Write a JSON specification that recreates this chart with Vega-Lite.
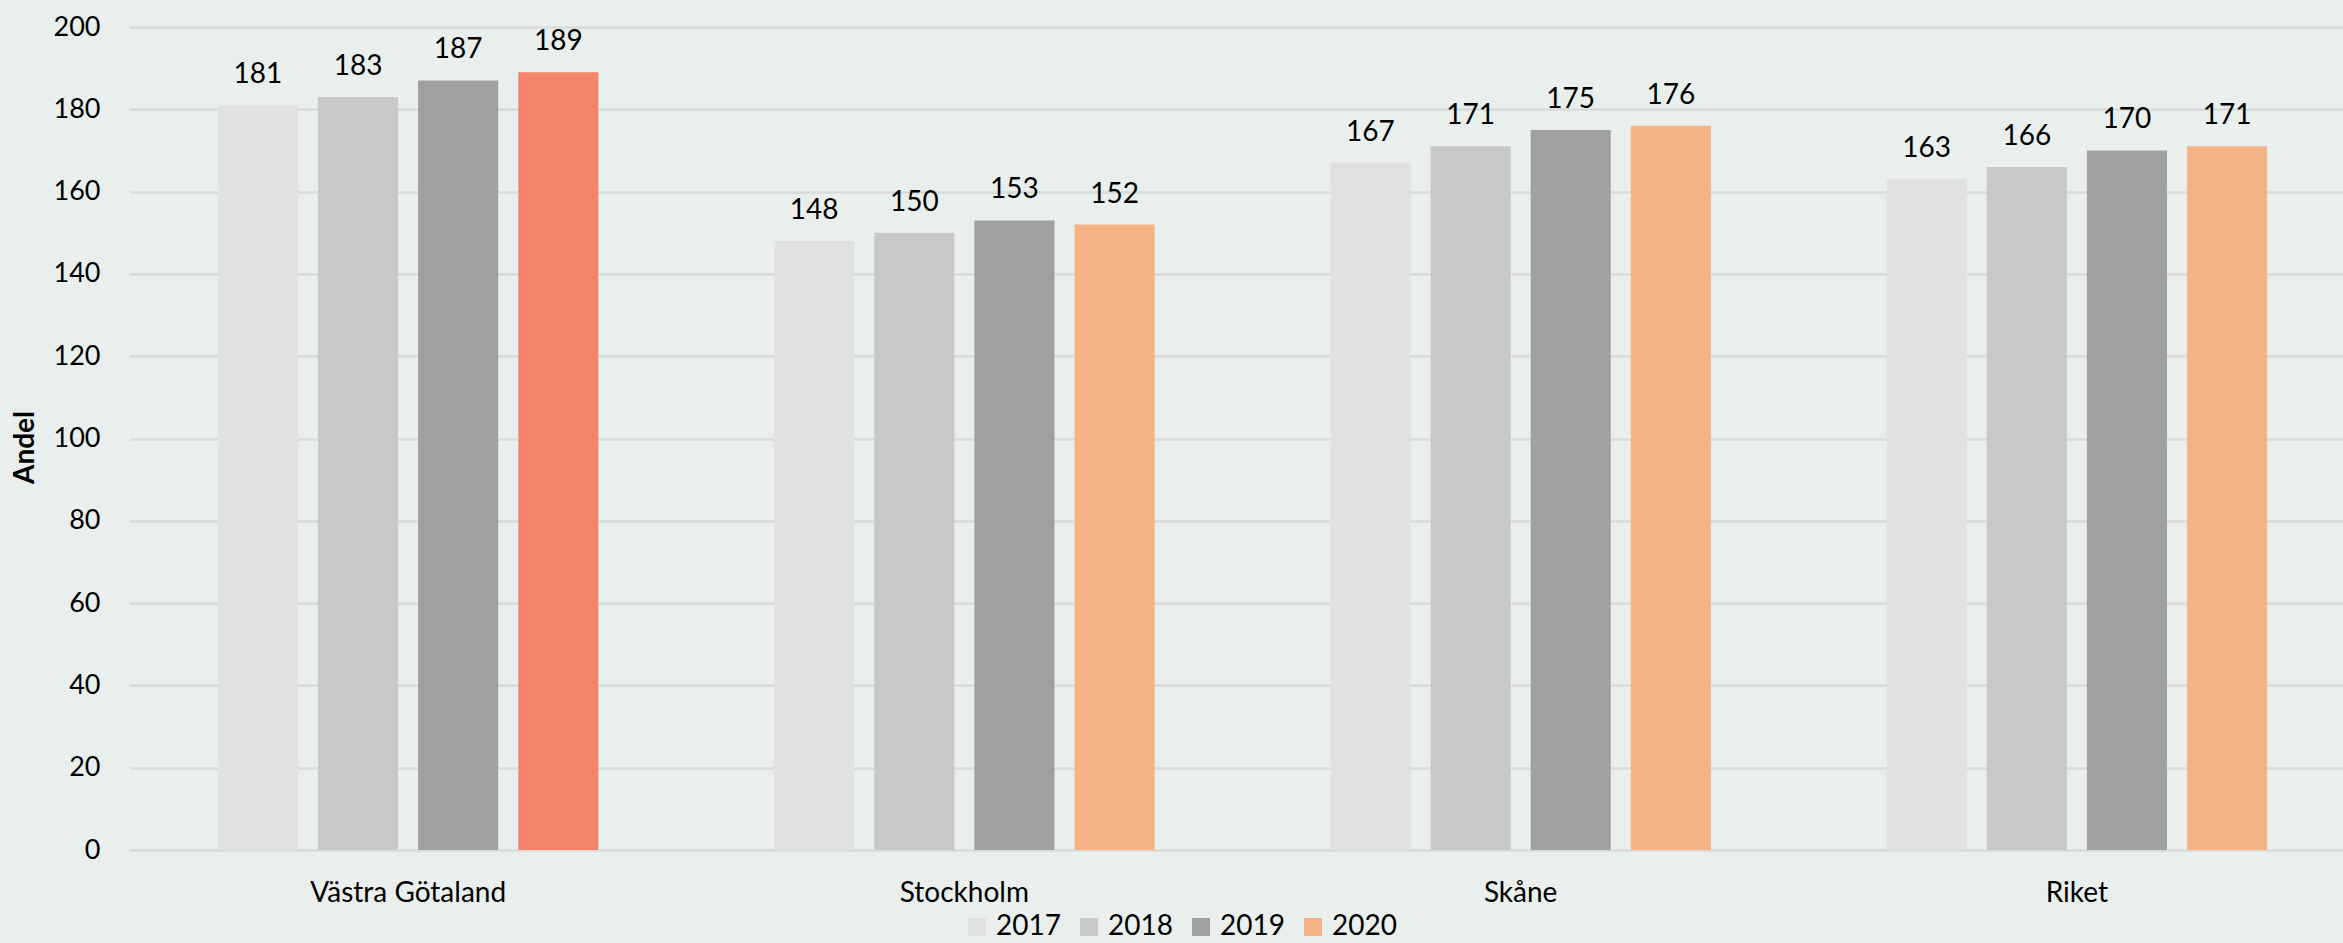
{
  "$schema": "https://vega.github.io/schema/vega-lite/v6.json",
  "width": 2225,
  "height": 823,
  "autosize": "none",
  "padding": {"left": 130, "top": 27, "right": 0, "bottom": 93},
  "background": "#E9EFED",
  "config": {"view": {"stroke": null}, "font": "Lato", "text": {"font": "Lato"}},
  "data": {"values": [
    {"region": "Västra Götaland", "year": "2017", "value": 181},
    {"region": "Västra Götaland", "year": "2018", "value": 183},
    {"region": "Västra Götaland", "year": "2019", "value": 187},
    {"region": "Västra Götaland", "year": "2020", "value": 189},
    {"region": "Stockholm", "year": "2017", "value": 148},
    {"region": "Stockholm", "year": "2018", "value": 150},
    {"region": "Stockholm", "year": "2019", "value": 153},
    {"region": "Stockholm", "year": "2020", "value": 152},
    {"region": "Skåne", "year": "2017", "value": 167},
    {"region": "Skåne", "year": "2018", "value": 171},
    {"region": "Skåne", "year": "2019", "value": 175},
    {"region": "Skåne", "year": "2020", "value": 176},
    {"region": "Riket", "year": "2017", "value": 163},
    {"region": "Riket", "year": "2018", "value": 166},
    {"region": "Riket", "year": "2019", "value": 170},
    {"region": "Riket", "year": "2020", "value": 171}
  ]},
  "encoding": {
    "x": {
      "field": "region", "type": "nominal",
      "sort": ["Västra Götaland", "Stockholm", "Skåne", "Riket"],
      "scale": {"paddingInner": 0.28, "paddingOuter": 0.14},
      "axis": {"title": null, "labelAngle": 0, "ticks": false, "domain": false, "labelFontSize": 28, "labelPadding": 29, "labelColor": "#000000", "labelLimit": 0}
    },
    "xOffset": {"field": "year", "type": "nominal", "scale": {"paddingInner": 0.2, "paddingOuter": 0.1}},
    "y": {
      "field": "value", "type": "quantitative",
      "scale": {"domain": [0, 200]},
      "axis": {
        "values": [0, 20, 40, 60, 80, 100, 120, 140, 160, 180, 200],
        "title": "Andel", "titleFontSize": 28, "titleFontWeight": "bold", "titleColor": "#000000",
        "titleX": -105, "titleY": 420, "titleAlign": "center", "titleBaseline": "middle", "titleAngle": -90,
        "labelFontSize": 27, "labelColor": "#000000", "labelPadding": 30,
        "ticks": false, "domain": false,
        "grid": true, "gridColor": "#D9DBDA", "gridWidth": 2.5
      }
    }
  },
  "layer": [
    {
      "mark": {"type": "bar"},
      "encoding": {
        "color": {
          "condition": {"test": "datum.region === 'Västra Götaland' && datum.year === '2020'", "value": "#F2846A"},
          "field": "year", "type": "nominal",
          "scale": {"domain": ["2017", "2018", "2019", "2020"], "range": ["#E1E1E1", "#C8C8C8", "#A0A0A0", "#F5B286"]},
          "legend": {
            "title": null, "orient": "none", "direction": "horizontal",
            "legendX": 833, "legendY": 886,
            "labelFontSize": 28, "labelColor": "#000000", "labelOffset": 5,
            "symbolType": "square", "symbolSize": 324, "symbolStrokeWidth": 0,
            "columnPadding": 14
          }
        }
      }
    },
    {
      "mark": {"type": "text", "baseline": "bottom", "dy": -16, "fontSize": 28, "color": "#000000"},
      "encoding": {"text": {"field": "value", "type": "quantitative"}}
    }
  ]
}
